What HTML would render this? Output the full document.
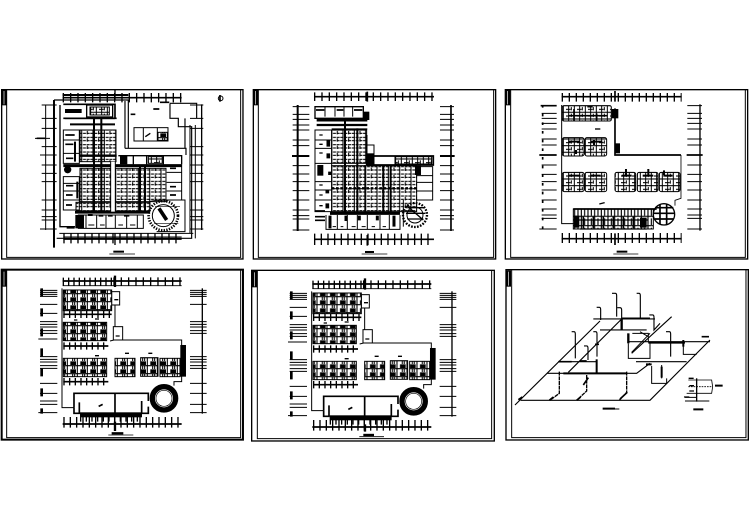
<!DOCTYPE html>
<html><head><meta charset="utf-8"><style>
html,body{margin:0;padding:0;background:#fff}
svg{display:block}
</style></head><body>
<svg width="749" height="530" viewBox="0 0 749 530" xmlns="http://www.w3.org/2000/svg">
<defs>
<pattern id="g" width="34" height="22" patternUnits="userSpaceOnUse"><path d="M0 3H34M0 13H34" stroke="#000" stroke-width="3.4" fill="none" stroke-dasharray="9 2"/><path d="M7 0V22M24 6v10" stroke="#000" stroke-width="3.2" fill="none"/></pattern>
<pattern id="h" width="30" height="24" patternUnits="userSpaceOnUse"><rect width="30" height="24" fill="#fff"/><rect x="1" y="1" width="17" height="11" fill="#000"/><path d="M0 14H30M22 0V24M8 14v10M14 14v10" stroke="#000" stroke-width="3.2" fill="none"/></pattern>
<pattern id="a" width="33" height="20" patternUnits="userSpaceOnUse"><path d="M0 2H33M8 0V20M16 6V16M25 0V20M0 13H14" stroke="#000" stroke-width="3" fill="none"/></pattern>
<pattern id="v" width="20" height="28" patternUnits="userSpaceOnUse"><path d="M0 2H20M4 0V28M14 8V28" stroke="#000" stroke-width="3.4" fill="none"/></pattern>

<g id="lower" fill="none" stroke="#000" stroke-width="3">
 <path d="M188 48H545" stroke-width="5"/><path d="M188 62H545" stroke-width="2.5"/>
 <path d="M188 50H340" stroke-width="24" stroke-dasharray="4 12"/><path d="M340 50H545" stroke-width="26" stroke-dasharray="4 18"/>
 <path d="M188 477H545" stroke-width="5"/><path d="M190 472H545" stroke-width="32" stroke-dasharray="4 15"/>
 <path d="M120 76H172M120 82H172M120 88H172M120 94H172M120 118H172M120 145H172M120 170H172M120 178H172M120 186H172M120 197H172M120 205H172M115 222H172M120 275H172M120 283H172M120 291H172M120 302H172M120 310H172M120 355H172M120 385H172M120 408H172M120 418H172M115 443H172"/>
 <path d="M570 76H620M570 82H620M570 88H620M570 94H620M570 118H620M570 170H620M570 178H620M570 186H620M570 197H620M570 205H620M570 275H620M570 283H620M570 291H620M570 302H620M570 310H620M570 355H620M570 385H620M570 418H620M570 443H620"/>
 <path d="M607 70V446" stroke-width="4"/><path d="M125 70V446" stroke-width="8" stroke-dasharray="24 36"/>
 <path d="M186 70V428H222M345 120V185M330 228L342 225H545V350H522V362"/>
 <rect x="335" y="80" width="24" height="40" fill="#fff"/><rect x="340" y="185" width="28" height="40" fill="#fff"/>
 <path d="M343 104h12M347 213h12" stroke-width="4"/>
 <rect x="541" y="240" width="17" height="95" fill="#000" stroke="none"/>
 <rect x="190" y="75" width="145" height="62" fill="url(#h)"/>
 <rect x="190" y="172" width="130" height="55" fill="url(#h)"/>
 <rect x="190" y="280" width="130" height="55" fill="url(#h)"/>
 <rect x="345" y="280" width="60" height="55" fill="url(#h)"/><rect x="422" y="278" width="52" height="56" fill="url(#h)"/><rect x="480" y="280" width="60" height="55" fill="url(#h)"/>
 <path d="M190 148H335M190 243H325M190 350H325" stroke-width="5"/>
 <path d="M190 148H335M190 243H325M190 350H325" stroke-width="22" stroke-dasharray="4 13"/>
 <path d="M222 428V385H445V408M345 385V445M238 412V445M425 408V445H445V425" stroke-width="5"/>
 <path d="M222 428V445H240" stroke-width="5"/>
 <rect x="240" y="442" width="186" height="15" fill="#000" stroke="none"/>
 <path d="M240 463H426" stroke-width="14" stroke-dasharray="4 13"/>
 <path d="M296 424L308 418" stroke-width="5"/>
 <circle cx="492" cy="400" r="35" stroke-width="16" fill="#fff"/>
 <circle cx="492" cy="400" r="24" stroke-width="2"/>
 <path d="M375 265h12M445 265h12M285 162h12M285 272h12M222 165h10" stroke-width="4"/>
</g>
</defs>

<g fill="none" stroke="#000" stroke-width="3">

<!-- Panel 1 -->
<g transform="translate(0 85) scale(.3333)">
 <rect x="5" y="14" width="724" height="508" stroke-width="4"/>
 <path d="M20 14V517H722V14" stroke-width="3"/>
 <rect x="5" y="14" width="15" height="47" fill="#000" stroke="none"/><path d="M12 18V58" stroke="#fff" stroke-width="2"/>
 <path d="M188 38H545" stroke-width="5"/><path d="M188 30H385" stroke-width="6"/><path d="M188 38H545" stroke-width="28" stroke-dasharray="4 18"/>
 <path d="M190 462H545" stroke-width="5"/><path d="M190 456H545" stroke-width="3"/><path d="M190 460H545" stroke-width="30" stroke-dasharray="4 17"/>
 <path d="M345 15V45M345 445V480" stroke-width="4"/>
 <path d="M125 60H170M125 100H170M125 130H170M125 185H170M120 210H170M125 240H170M125 265H170M125 290H170M125 345H170M125 375H170M125 395H170M125 405H170M120 432H170M105 160H150"/>
 <path d="M570 60H610M570 100H610M570 130H610M570 185H610M570 210H610M570 240H610M570 265H610M570 290H610M570 345H610M570 375H610M570 395H610M570 405H610M570 432H610"/>
 <path d="M162 45V488" stroke-width="6"/><path d="M137 60V435" stroke-width="3"/><path d="M605 58V435" stroke-width="4"/><path d="M586 120V460M570 120V445"/>
 <path d="M162 45H385V190H555V100M375 48V190M375 190H558V210M510 55H590V100M510 55V100H535V125H575V460H170" stroke-width="3.5"/>
 <path d="M180 60V425H225" stroke-width="4"/>
 <path d="M178 445H580" stroke-width="3"/>
 <rect x="260" y="60" width="78" height="36" stroke-width="4"/><rect x="270" y="66" width="58" height="24" fill="url(#a)"/>
 <path d="M190 58H345V100M190 100H350" stroke-width="5"/>
 <path d="M195 72h50v12h-50z" fill="#000" stroke="none"/>
 <rect x="240" y="135" width="108" height="95" fill="url(#g)"/>
 <rect x="240" y="250" width="258" height="100" fill="url(#g)"/>
 <rect x="228" y="352" width="222" height="26" fill="url(#g)"/>
 <path d="M190 242H545" stroke-width="9"/><path d="M225 382H450" stroke-width="8"/><path d="M210 118H345" stroke-width="6"/><path d="M195 100H345" stroke-width="5"/>
 <path d="M240 212H350" stroke-width="7"/>
 <path d="M282 100V385M304 100V385M435 240V385M420 240V385" stroke-width="6"/>
 <rect x="332" y="230" width="14" height="150" fill="#fff" stroke="none"/><path d="M332 230V380M346 230V380" stroke-width="3"/>
 <path d="M190 135H238V235H190ZM190 165H238M190 205H238M190 275H238V375H190ZM190 295H238M190 318H238M190 345H238" stroke-width="3"/>
 <path d="M196 150h28M196 178h24M198 220h22M198 302h22M198 330h20M198 360h18" stroke-width="5"/>
 <circle cx="203" cy="254" r="11" fill="#000" stroke="none"/>
 <path d="M225 170V230M232 290V340" stroke-width="6"/>
 <path d="M355 212H545V238M400 212V238M440 212V238M490 212V238" stroke-width="4"/>
 <rect x="445" y="215" width="42" height="20" fill="url(#a)"/>
 <rect x="360" y="212" width="22" height="26" fill="#000" stroke="none"/>
 <path d="M500 240H545V345H500M500 262H545M500 292H545M500 318H545" stroke-width="3"/>
 <path d="M510 250h18M510 305h18M510 330h18" stroke-width="5"/>
 <rect x="402" y="128" width="102" height="40" stroke-width="3"/><path d="M430 128V168M472 128V168"/><rect x="474" y="142" width="30" height="24" fill="url(#h)"/><path d="M436 155l15-10" stroke-width="4"/>
 <path d="M235 390H430V430H235ZM258 390V430M290 390V430M318 390V430M346 390V430M380 390V430M412 390V430" stroke-width="3"/>
 <rect x="226" y="390" width="26" height="40" fill="#000" stroke="none"/>
 <path d="M264 390h14M296 392h14M324 392h14M372 392h16M200 428h24" stroke-width="6"/>
 <path d="M265 420h18M300 420h14M355 420h14M390 420h16" stroke-width="3"/>
 <path d="M450 350Q455 345 525 345H555V440H470" stroke-width="3"/>
 <circle cx="490" cy="392" r="44" stroke-width="8" stroke-dasharray="4 4"/>
 <circle cx="490" cy="392" r="33" stroke-width="3"/>
 <path d="M477 370L500 405" stroke-width="11"/>
 <path d="M465 365H540M462 415H535" stroke-width="2"/>
 <circle cx="662" cy="40" r="7" stroke-width="3"/><path d="M660 30V50" stroke-width="5"/>
 <path d="M340 500H372" stroke-width="6"/><path d="M328 507H405" stroke-width="2.5"/>
 <path d="M110 160H135M480 52h28M460 72h18M392 88h14" stroke-width="5"/>
</g>

<!-- Panel 2 -->
<g transform="translate(250 85) scale(.3333)">
 <rect x="10" y="14" width="727" height="508" stroke-width="4"/>
 <path d="M25 14V517H731V14" stroke-width="3"/>
 <rect x="10" y="14" width="15" height="47" fill="#000" stroke="none"/><path d="M17 18V58" stroke="#fff" stroke-width="2"/>
 <path d="M192 35H552" stroke-width="5"/><path d="M192 35H552" stroke-width="26" stroke-dasharray="4 18"/>
 <path d="M192 463H552" stroke-width="5"/><path d="M192 463H552" stroke-width="34" stroke-dasharray="4 16"/>
 <path d="M352 20V50M352 450V482" stroke-width="5"/>
 <path d="M128 65H178M128 88H178M128 103H178M128 120H178M128 135H178M128 165H178M128 182H178M128 242H178M128 267H178M128 290H178M128 317H178M128 345H178M128 375H178M128 392H178M128 402H178M128 435H178" />
 <path d="M126 213H178" stroke-width="6"/>
 <path d="M570 65H612M570 88H612M570 103H612M570 120H612M570 135H612M570 165H612M570 182H612M570 242H612M570 267H612M570 290H612M570 317H612M570 345H612M570 375H612M570 392H612M570 402H612M570 435H612"/>
 <path d="M570 213H614" stroke-width="6"/>
 <path d="M143 60V438" stroke-width="6"/><path d="M603 60V438" stroke-width="5"/>
 <path d="M195 65H340V100H195Z" stroke-width="4"/><path d="M225 65V95M255 65V95M282 65V95M308 65V95"/>
 <path d="M198 75h25M260 75h20M312 75h25" stroke-width="5"/>
 <rect x="340" y="80" width="18" height="25" fill="#000" stroke="none"/>
 <path d="M200 105H352" stroke-width="9"/><path d="M200 120H352" stroke-width="7"/><path d="M245 132H352" stroke-width="4"/>
 <rect x="245" y="135" width="105" height="100" fill="url(#g)"/>
 <rect x="245" y="242" width="255" height="138" fill="url(#g)"/>
 <rect x="435" y="215" width="110" height="22" fill="url(#a)"/>
 <path d="M245 310H500" stroke-width="7" stroke-dasharray="8 5"/>
 <path d="M350 213H550V240H350M350 150V240" stroke-width="5"/>
 <path d="M350 180H372V240" stroke-width="3"/><rect x="350" y="205" width="22" height="38" fill="#000" stroke="none"/>
 <path d="M285 100V385M322 130V385M400 240V385M422 240V385" stroke-width="6"/>
 <path d="M345 240V385" stroke-width="4"/>
 <path d="M195 135H245V380H195ZM195 165H245M195 190H245M195 235H245M195 290H245M195 315H245M195 345H245" stroke-width="3"/>
 <rect x="202" y="240" width="18" height="32" fill="#000" stroke="none"/>
 <path d="M235 165V185M235 205V220M240 260V270M232 315V325M232 355V370" stroke-width="11"/>
 <path d="M208 150h10M208 178h10M208 204h10M208 300h10M208 330h10M208 362h10" stroke-width="4"/>
 <path d="M500 245H548V345H500M500 272H548M500 292H548M500 318H548" stroke-width="3"/>
 <rect x="495" y="242" width="18" height="28" fill="#000" stroke="none"/>
 <path d="M240 385H450" stroke-width="9"/>
 <path d="M228 390V433H450V390M262 390V433M292 390V433M322 390V433M352 390V433M390 390V433M418 390V433" stroke-width="3"/>
 <path d="M195 378H225M195 395H225M195 406H225" stroke-width="5"/>
 <path d="M240 392V430M288 392V408M328 392V406M382 392V406M432 392V425" stroke-width="9"/>
 <path d="M248 425h10M272 425h8M305 425h12M335 425h12M365 425h10M398 425h10" stroke-width="3"/>
 <circle cx="495" cy="390" r="36" stroke-width="7" stroke-dasharray="5 4"/>
 <circle cx="495" cy="390" r="24" stroke-width="3"/>
 <path d="M470 362L520 405M472 368H522M468 385H526M472 402H520" stroke-width="4"/>
 <path d="M460 345V425" stroke-width="3"/>
 <path d="M345 501H372" stroke-width="6"/><path d="M335 507H412" stroke-width="2.5"/>
</g>

<!-- Panel 3 -->
<g transform="translate(500 85) scale(.3333)">
 <rect x="16" y="14" width="727" height="508" stroke-width="4"/>
 <path d="M32 14V517H736V14" stroke-width="3"/>
 <rect x="16" y="14" width="15" height="47" fill="#000" stroke="none"/><path d="M23 18V58" stroke="#fff" stroke-width="2"/>
 <path d="M185 35H545" stroke-width="5"/><path d="M185 37H545" stroke-width="26" stroke-dasharray="4 17"/>
 <path d="M185 461H545" stroke-width="5"/><path d="M185 459H545" stroke-width="30" stroke-dasharray="4 17"/>
 <path d="M345 18V50M345 445V480" stroke-width="5"/>
 <path d="M125 85H170M125 100H170M125 115H170M125 132H170M125 162H170M125 180H170M125 240H170M125 268H170M125 290H170M125 315H170M125 345H170M125 372H170M125 390H170M125 400H170M118 432H170"/>
 <path d="M122 62H170M118 210H170" stroke-width="5"/>
 <path d="M562 62H606M562 85H606M562 100H606M562 115H606M562 132H606M562 162H606M562 180H606M562 240H606M562 268H606M562 290H606M562 315H606M562 345H606M562 372H606M562 390H606M562 400H606M562 432H606"/>
 <path d="M560 210H608" stroke-width="5"/>
 <path d="M128 60V435" stroke-width="5" stroke-dasharray="8 18"/><path d="M600 58V437" stroke-width="4"/>
 <path d="M185 60V416H222" stroke-width="3"/>
 <path d="M345 70V210H543" stroke-width="5"/><path d="M543 210V340L525 346V362" stroke-width="2.5"/>
 <rect x="335" y="72" width="20" height="28" fill="#000" stroke="none"/><rect x="345" y="175" width="15" height="30" fill="#000" stroke="none"/>
 <rect x="187" y="62" width="147" height="46" rx="5" fill="url(#a)"/>
 <path d="M205 92h118M222 72V108M290 85V108M262 65h16" stroke-width="5"/>
 <path d="M285 132h16" stroke-width="4"/>
 <rect x="187" y="158" width="65" height="55" rx="6" fill="url(#a)"/><rect x="255" y="158" width="65" height="55" rx="6" fill="url(#a)"/>
 <path d="M205 170h35M272 170h35M228 195v12M282 165v15" stroke-width="6"/>
 <rect x="187" y="262" width="65" height="58" rx="6" fill="url(#a)"/><rect x="255" y="262" width="65" height="58" rx="6" fill="url(#a)"/>
 <rect x="345" y="262" width="62" height="58" rx="6" fill="url(#a)"/><rect x="412" y="262" width="62" height="58" rx="6" fill="url(#a)"/><rect x="478" y="262" width="62" height="58" rx="6" fill="url(#a)"/>
 <path d="M205 272h35M272 272h30M365 272h30M428 272h32M490 272h28M378 252v18M445 252v18M492 256v14" stroke-width="6"/>
 <path d="M298 357l16-4" stroke-width="4"/>
 <rect x="220" y="372" width="240" height="60" fill="url(#v)"/>
 <path d="M220 372H470" stroke-width="5"/><path d="M220 405H445" stroke-width="4"/><path d="M240 432H440" stroke-width="4"/>
 <rect x="222" y="392" width="16" height="36" fill="#000" stroke="none"/><rect x="420" y="398" width="20" height="30" fill="#000" stroke="none"/>
 <path d="M250 395V430M280 395V430M310 395V430M340 395V430M370 395V430M400 395V430" stroke-width="5"/>
 <circle cx="492" cy="388" r="32" stroke-width="4"/>
 <path d="M465 368H520M462 385H524M465 402H520M480 358V418M500 358V418" stroke-width="5"/>
 <path d="M350 500H382" stroke-width="6"/><path d="M340 507H415" stroke-width="2.5"/>
</g>

<!-- Panel 4 -->
<g transform="translate(0 265) scale(.3333)">
 <rect x="5" y="14" width="724" height="510" stroke-width="6"/>
 <path d="M20 14V518H722V14" stroke-width="3"/>
 <rect x="5" y="16" width="15" height="49" fill="#000" stroke="none"/><path d="M12 20V62" stroke="#fff" stroke-width="2"/>
 <use href="#lower"/>
 <path d="M345 32V66M345 470V498" stroke-width="7"/>
 <path d="M335 505H370" stroke-width="7"/><path d="M325 510H400" stroke-width="2.5"/>
</g>

<!-- Panel 5 -->
<g transform="translate(250 265) scale(.3333)">
 <rect x="5" y="16" width="728" height="512" stroke-width="4"/>
 <path d="M22 16V521H725V16" stroke-width="3"/>
 <rect x="5" y="18" width="17" height="49" fill="#000" stroke="none"/><path d="M13 22V64" stroke="#fff" stroke-width="2"/>
 <use href="#lower" transform="translate(-1 9)"/>
 <path d="M345 40V74M345 478V500" stroke-width="7"/>
 <path d="M340 510H372" stroke-width="7"/><path d="M328 515H402" stroke-width="2.5"/>
</g>

<!-- Panel 6 -->
<g transform="translate(500 265) scale(.3333)">
 <rect x="18" y="14" width="727" height="511" stroke-width="4"/>
 <path d="M35 14V518H738V14" stroke-width="3"/>
 <rect x="18" y="16" width="15" height="49" fill="#000" stroke="none"/><path d="M25 20V62" stroke="#fff" stroke-width="2"/>
 <path d="M45 420L300 168M62 406H450L630 225M385 230H630M395 265L515 155M280 162H465M140 325H410L450 295M175 290H290M205 322L362 165M300 195H440M408 290H560" stroke-width="3.4"/>
 <path d="M190 325H378" stroke-width="6"/>
 <path d="M178 320V385L150 406M260 330V378L230 406M380 320V382L358 406" stroke-width="4" stroke-dasharray="12 2"/>
 <path d="M336 85H346Q350 85 350 92V155M410 85H417Q421 85 421 92V160M290 127H298Q302 127 302 134V165M215 200H222Q226 200 226 207V280M280 200H287Q291 200 291 207V275M252 243H260Q264 243 264 250V285M352 128H360Q365 128 365 135V165M448 150H458Q462 150 462 157V195L480 175M498 200H508Q512 200 512 207V275" stroke-width="3.4"/>
 <path d="M365 160V195" stroke-width="7"/><path d="M290 283V325" stroke-width="6"/><path d="M385 205V235" stroke-width="7"/>
 <path d="M365 160H450" stroke-width="5"/><path d="M445 233H555" stroke-width="6"/>
 <path d="M385 235V280H450V232M397 205H445V232M420 200L445 215M395 262L450 205" stroke-width="3"/>
 <path d="M550 230V268H590" stroke-width="3"/><path d="M550 225V245" stroke-width="6"/>
 <path d="M455 303V355H500V340M485 300V340" stroke-width="3"/><path d="M438 298H455M485 305V338" stroke-width="6"/>
 <path d="M175 290H215M240 288H260M605 215h22" stroke-width="5"/>
 <path d="M55 404l12-8M148 406l12-10M230 406l12-10M360 402l22-20M250 360l15-22M285 238h12" stroke-width="5"/>
 <path d="M590 340V410" stroke-width="4"/>
 <path d="M565 345H635L638 365L635 385H560" stroke-width="2.5"/>
 <path d="M565 365H635" stroke-width="2.5" stroke-dasharray="5 3"/>
 <path d="M555 397H590M555 408H628" stroke-width="3"/>
 <path d="M566 340h15M568 362h14M568 378h14M552 396h16" stroke-width="4"/>
 <path d="M645 362H668M580 433H610M308 431H345" stroke-width="6"/><path d="M345 432H358" stroke-width="3"/>
</g>
</g>
</svg>
</body></html>
